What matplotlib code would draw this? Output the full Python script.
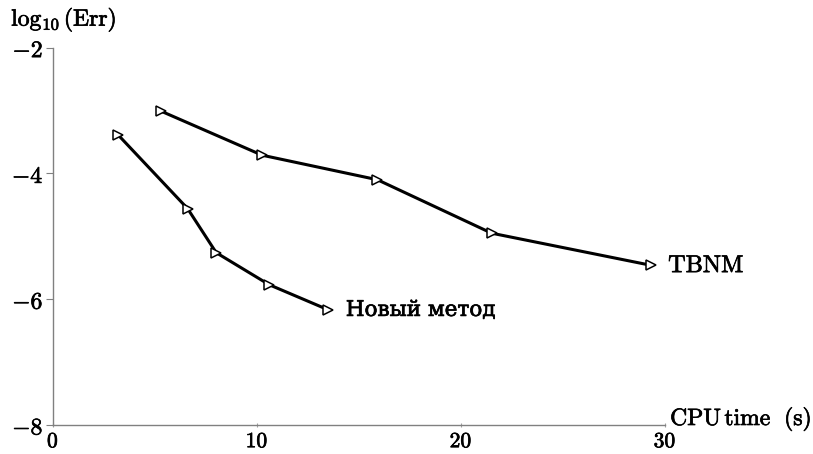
import matplotlib
matplotlib.use("Agg")
from matplotlib import pyplot as plt
from matplotlib import patheffects

# CPU time (s) vs log10 of the error
new_time = [3.2, 6.6, 8.0, 10.6, 13.5]
new_err = [-3.39, -4.56, -5.26, -5.77, -6.17]
tbnm_time = [5.3, 10.25, 15.9, 21.5, 29.3]
tbnm_err = [-3.01, -3.71, -4.10, -4.95, -5.46]

xticks = [0, 10, 20, 30]
yticks = [-2, -4, -6, -8]

plt.rcParams['mathtext.fontset'] = 'cm'

# the scan's text is a bit heavier than plain CM, thicken it slightly
thick = [patheffects.withStroke(linewidth=0.5, foreground='black')]

fig = plt.figure(figsize=(8.13, 4.54), dpi=100)
ax = fig.add_axes([0.0652, 0.0639, 0.7528, 0.8311])

for t, e in [(new_time, new_err), (tbnm_time, tbnm_err)]:
    ax.plot(t, e, color='black', lw=2.2, marker='>', markersize=6.5,
            markerfacecolor='white', markeredgecolor='black', markeredgewidth=1.1,
            zorder=3)

ax.set_xlim(0, 30)
ax.set_ylim(-8, -2)
ax.set_xticks(xticks)
ax.set_xticklabels(['$%d$' % v for v in xticks], fontsize=15.5)
ax.set_yticks(yticks)
ax.set_yticklabels(['$-%d$' % abs(v) for v in yticks], fontsize=17)
for lab in ax.get_xticklabels() + ax.get_yticklabels():
    lab.set_path_effects(thick)

for side in ['top', 'right']:
    ax.spines[side].set_visible(False)
for side in ['left', 'bottom']:
    ax.spines[side].set_color('#808080')
    ax.spines[side].set_linewidth(1.0)
ax.tick_params(axis='y', direction='out', length=5, width=0.8, color='#808080', pad=2)
ax.tick_params(axis='x', direction='inout', length=3, width=0.8, color='#a0a0a0', pad=3)

ax.text(tbnm_time[-1] + 0.85, tbnm_err[-1], r'$\mathrm{TBNM}$', fontsize=17.5,
        va='center', ha='left', path_effects=thick)
ax.text(new_time[-1] + 0.85, new_err[-1], 'Новый метод', family='DejaVu Serif',
        fontsize=15.5, va='center', ha='left', path_effects=thick)

ax.text(30.25, -8, r'$\mathrm{CPU\,time\ \ (s)}$', fontsize=17,
        va='baseline', ha='left', path_effects=thick)
ax.text(-2.05, -1.65, r'$\log_{10}(\mathrm{Err})$', fontsize=17,
        va='baseline', ha='left', clip_on=False, path_effects=thick)

fig.savefig('out.png', dpi=100)
